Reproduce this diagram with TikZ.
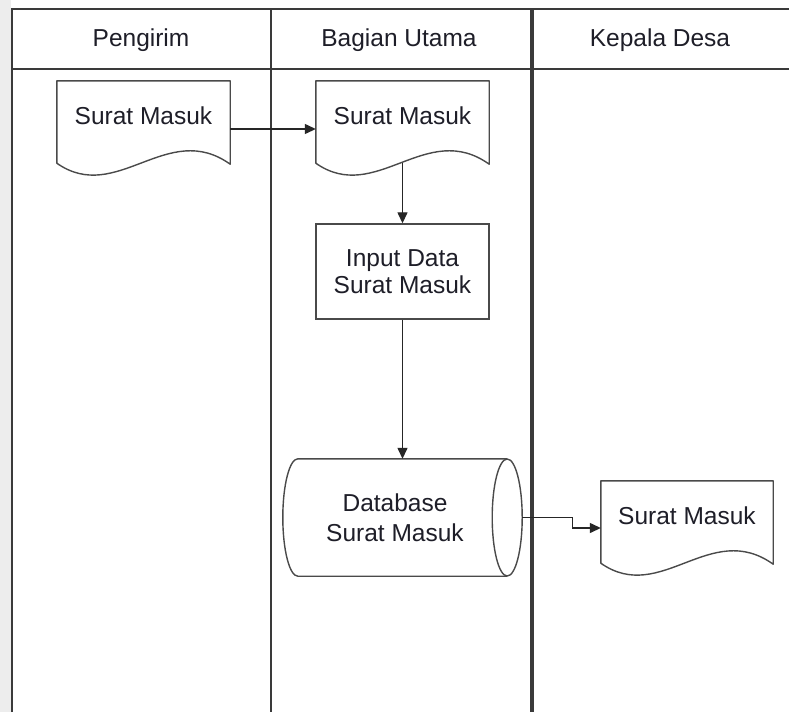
\documentclass[tikz,border=0pt]{standalone}
\usepackage{fontspec}
\setmainfont{Liberation Sans}
\usetikzlibrary{arrows.meta,calc}
\definecolor{txt}{HTML}{1E1E28}
\definecolor{laneclr}{HTML}{3A3A3A}
\definecolor{shapeclr}{HTML}{4A4A4A}
\newcommand\docoutline[1]{%
  \draw[shapeline] (#1.north west) -- (#1.north east) -- ($(#1.south east)+(0,1)$)
    .. controls ($(#1.south east)+(-63,-44)$) and ($(#1.south west)+(60,42)$) .. (#1.south west) -- cycle;}
\begin{document}
\begin{tikzpicture}[x=1pt,y=-1pt,
  lane/.style={draw=laneclr, line width=2pt},
  shapeline/.style={draw=shapeclr, line width=1.4pt, line join=round},
  lbl/.style={font=\fontsize{24.5}{28}\selectfont, text=txt, inner sep=0pt},
  header/.style={lbl},
  docnode/.style={lbl, minimum width=173pt, minimum height=82pt, text height=18pt, text depth=12.6pt},
  procbox/.style={lbl, draw=shapeclr, line width=1.4pt, minimum width=173pt, minimum height=95pt, align=center, font=\fontsize{24.5}{26.5}\selectfont},
  dbnode/.style={lbl, minimum width=224pt, minimum height=117pt, align=center, font=\fontsize{24.5}{30}\selectfont},
  arrow/.style={draw=black!85, line width=1.3pt, -{Triangle[length=11pt,width=10pt]}}]
\useasboundingbox (0,0) rectangle (789,712);
\fill[black!7] (0,0) rectangle (11,712);
\fill[white] (11,0) rectangle (789,712);
% swimlanes
\draw[lane] (12,712) -- (12,9) -- (789,9);
\draw[lane] (12,69) -- (789,69);
\draw[lane] (271,9) -- (271,712);
\draw[lane, line width=3.5pt] (532,9) -- (532,712);
\node[header] (h1) at (141,40) {Pengirim};
\node[header] (h2) at (399,40) {Bagian Utama};
\node[header] (h3) at (660,40) {Kepala Desa};
% shapes
\node[docnode] (d1) at (143.5,122) {Surat Masuk};
\docoutline{d1}
\node[docnode] (d2) at (402.5,122) {Surat Masuk};
\docoutline{d2}
\node[procbox] (in) at (402.5,271.5) {Input Data\\Surat Masuk};
\node[dbnode] (db) at (395,517.5) {Database\\Surat Masuk};
\draw[shapeline] (db.north east) -- ($(db.north west)+(15,0)$)
  .. controls ($(db.north west)+(6.72,0)$) and ($(db.west)+(0,-32.3)$) .. (db.west)
  .. controls ($(db.west)+(0,32.3)$) and ($(db.south west)+(6.72,0)$) .. ($(db.south west)+(15,0)$)
  -- (db.south east);
\draw[shapeline] (db.east) ellipse [x radius=15pt, y radius=58.5pt];
\node[docnode, minimum width=172pt] (d3) at (687,522) {Surat Masuk};
\docoutline{d3}
% connectors
\draw[arrow] ([yshift=-7pt]d1.east) -- ([yshift=-7pt]d2.west);
\draw[arrow] (d2.south) -- (in.north);
\draw[arrow] (in.south) -- (in.south |- db.north);
\draw[arrow] ([xshift=15pt]db.east) -- ++(50pt,0) |- ([yshift=-6pt]d3.west);
\end{tikzpicture}
\end{document}
